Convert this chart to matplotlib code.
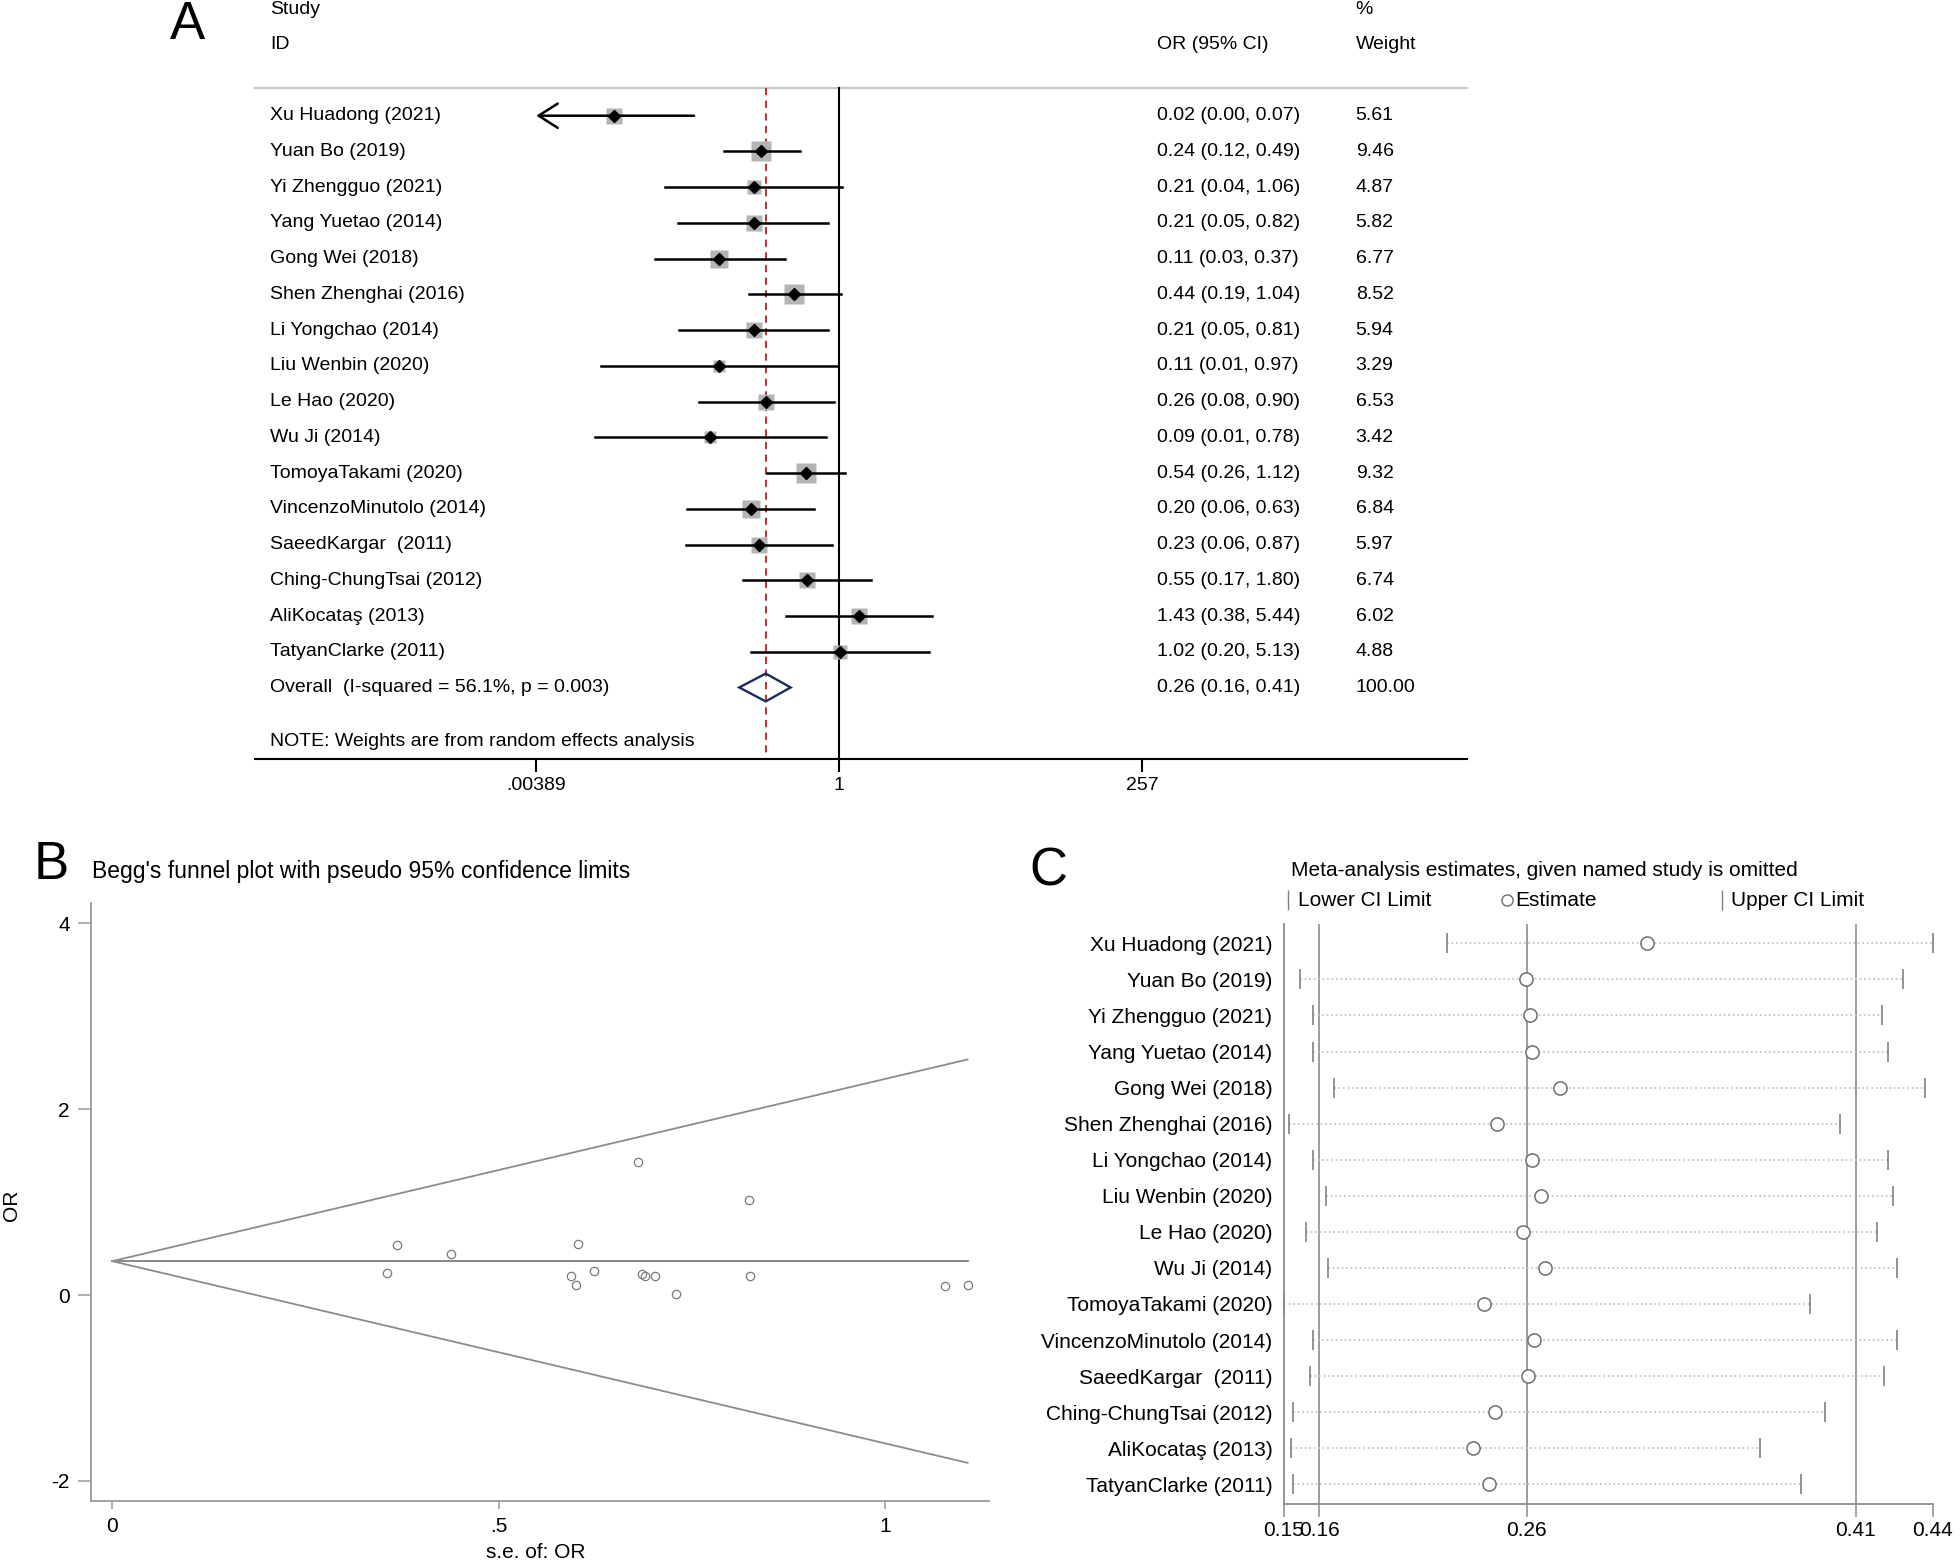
import numpy as np
import matplotlib
matplotlib.use("Agg")
import matplotlib.pyplot as plt
from matplotlib import transforms
from matplotlib.lines import Line2D
from matplotlib.patches import Polygon

# ---- data -------------------------------------------------------------
studies = ["Xu Huadong (2021)", "Yuan Bo (2019)", "Yi Zhengguo (2021)", "Yang Yuetao (2014)",
           "Gong Wei (2018)", "Shen Zhenghai (2016)", "Li Yongchao (2014)", "Liu Wenbin (2020)",
           "Le Hao (2020)", "Wu Ji (2014)", "TomoyaTakami (2020)", "VincenzoMinutolo (2014)",
           "SaeedKargar  (2011)", "Ching-ChungTsai (2012)", "AliKocataş (2013)", "TatyanClarke (2011)"]
or_est = [0.016, 0.24, 0.21, 0.21, 0.11, 0.44, 0.21, 0.11, 0.26, 0.093, 0.54, 0.20, 0.23, 0.55, 1.43, 1.02]
ci_low = [0.003, 0.12, 0.041, 0.052, 0.034, 0.19, 0.053, 0.0127, 0.077, 0.0114, 0.264, 0.061, 0.06, 0.17, 0.38, 0.20]
ci_high = [0.07, 0.49, 1.06, 0.82, 0.37, 1.04, 0.81, 0.97, 0.90, 0.78, 1.12, 0.63, 0.87, 1.80, 5.44, 5.13]
weights = [5.61, 9.46, 4.87, 5.82, 6.77, 8.52, 5.94, 3.29, 6.53, 3.42, 9.32, 6.84, 5.97, 6.74, 6.02, 4.88]
overall = [0.26, 0.16, 0.41]
i_squared = 56.1
p_het = 0.003
forest_ticks = [0.00389, 1, 257]
forest_tick_labels = [".00389", "1", "257"]

# Begg's funnel: standard error of each study
se_or = [0.729, 0.356, 0.826, 0.690, 0.600, 0.438, 0.702, 1.107,
         0.624, 1.078, 0.369, 0.594, 0.686, 0.603, 0.680, 0.824]
funnel_center = 0.365

# influence analysis (study omitted)
omit_est = [0.313, 0.257, 0.259, 0.260, 0.273, 0.244, 0.260, 0.264,
            0.256, 0.266, 0.238, 0.261, 0.258, 0.243, 0.233, 0.240]
omit_low = [0.221, 0.153, 0.159, 0.159, 0.169, 0.148, 0.159, 0.165,
            0.156, 0.166, 0.1456, 0.159, 0.158, 0.150, 0.149, 0.150]
omit_high = [0.4444, 0.431, 0.421, 0.424, 0.441, 0.402, 0.424, 0.426,
             0.419, 0.428, 0.388, 0.428, 0.422, 0.395, 0.365, 0.384]
omit_ref = [0.162, 0.2575, 0.409]  # combined lower, estimate, upper

# ---- figure -----------------------------------------------------------
W, H = 1960, 1563
plt.rcParams['font.family'] = ['Liberation Sans', 'DejaVu Sans']
fig = plt.figure(figsize=(W / 100, H / 100), dpi=100)


def box(x0, y0, x1, y1):
    return [x0 / W, 1 - y1 / H, (x1 - x0) / W, (y1 - y0) / H]


# ===== Panel A: forest plot =====
axA = fig.add_axes(box(254.5, 0, 1466.7, 759.3))
pxu = 54.6
axA.set_xlim((254.5 - 839.3) / pxu, (1466.7 - 839.3) / pxu)
ytop, ybot = 0.233, 19.01
axA.set_ylim(ybot, -2.238)
for s in ['top', 'left', 'right']:
    axA.spines[s].set_visible(False)
axA.spines['bottom'].set_linewidth(1.5)
axA.set_xticks(np.log(forest_ticks))
axA.set_xticklabels(forest_tick_labels)
axA.tick_params(axis='x', length=9.5, width=1.5, labelsize=14, pad=3)
axA.set_yticks([])
fsA = 14

blend = transforms.blended_transform_factory(axA.transAxes, axA.transData)
axA.plot([0, 1], [ytop, ytop], transform=blend, color='#c8c8c8', lw=1.6, clip_on=False)
axA.plot([0, 0], [ytop, ybot], color='black', lw=1.5, clip_on=False)
axA.plot([np.log(overall[0])] * 2, [ytop, ybot], color='#b22222', lw=1.3,
         ls=(0, (4, 3)), clip_on=False)

clip_lo = np.log(forest_ticks[0])
for i in range(len(studies)):
    r = i + 1
    x = np.log(or_est[i])
    axA.plot(x, r, marker='s', ms=14.5 * np.sqrt(weights[i] / 9.46), color='#b4b4b4',
             mec='none', zorder=2)
    lo = np.log(ci_low[i])
    hi = np.log(ci_high[i])
    if lo < clip_lo:
        axA.annotate('', xy=(clip_lo, r), xytext=(hi, r),
                     arrowprops=dict(arrowstyle='->,head_length=0.55,head_width=0.35',
                                     lw=1.8, color='black', shrinkA=0, shrinkB=0,
                                     mutation_scale=25), zorder=3)
    else:
        axA.plot([lo, hi], [r, r], color='black', lw=1.8, zorder=3)
    axA.plot(x, r, marker='D', ms=6.3, color='black', zorder=4)
    axA.text(0.0127, r, studies[i], transform=blend, va='center', fontsize=fsA)
    axA.text(0.7448, r, "%.2f (%.2f, %.2f)" % (or_est[i], ci_low[i], ci_high[i]),
             transform=blend, va='center', fontsize=fsA)
    axA.text(0.9084, r, "%.2f" % weights[i], transform=blend, va='center', fontsize=fsA)

ro = len(studies) + 1
ov = np.log(overall)
axA.add_patch(Polygon([(ov[1], ro), (ov[0], ro - 0.39), (ov[2], ro), (ov[0], ro + 0.39)],
                      closed=True, fill=False, ec='#1c2a5e', lw=1.7, zorder=4))
axA.text(0.0127, ro, "Overall  (I-squared = %.1f%%, p = %.3f)" % (i_squared, p_het),
         transform=blend, va='center', fontsize=fsA)
axA.text(0.7448, ro, "%.2f (%.2f, %.2f)" % tuple(overall), transform=blend, va='center', fontsize=fsA)
axA.text(0.9084, ro, "%.2f" % sum(weights), transform=blend, va='center', fontsize=fsA)
axA.text(0.0127, 18.52, "NOTE: Weights are from random effects analysis", transform=blend,
         va='center', fontsize=fsA)
axA.text(0.0127, -1.986, "Study", transform=blend, va='center', fontsize=fsA)
axA.text(0.0127, -1.0, "ID", transform=blend, va='center', fontsize=fsA)
axA.text(0.7448, -1.0, "OR (95% CI)", transform=blend, va='center', fontsize=fsA)
axA.text(0.9084, -1.986, "%", transform=blend, va='center', fontsize=fsA)
axA.text(0.9084, -1.0, "Weight", transform=blend, va='center', fontsize=fsA)

# ===== Panel B: Begg's funnel plot =====
axB = fig.add_axes(box(91.2, 903, 988.5, 1500.7))
axB.set_xlim(-0.0272, 1.134)
axB.set_ylim(-2.212, 4.218)
for s in ['top', 'right']:
    axB.spines[s].set_visible(False)
for s in ['left', 'bottom']:
    axB.spines[s].set_color('#9a9a9a')
    axB.spines[s].set_linewidth(1.3)
se_max = max(se_or)
axB.plot([0, se_max], [funnel_center, funnel_center], color='#7f7f7f', lw=1.3)
axB.plot([0, se_max], [funnel_center, funnel_center + 1.96 * se_max], color='#8c8c8c', lw=1.3)
axB.plot([0, se_max], [funnel_center, funnel_center - 1.96 * se_max], color='#8c8c8c', lw=1.3)
axB.plot(se_or, or_est, linestyle='none', marker='o', ms=6, mfc='none', mec='#7a7a7a', mew=0.9)
axB.set_yticks([-2, 0, 2, 4])
axB.set_yticklabels(["-2", "0", "2", "4"])
axB.set_xticks([0, 0.5, 1])
axB.set_xticklabels(["0", ".5", "1"])
axB.tick_params(axis='y', length=9.5, width=1.1, color='#9a9a9a', labelsize=15, pad=6)
axB.tick_params(axis='x', length=6, width=1.1, color='#9a9a9a', labelsize=15, pad=6)
fig.text(536 / W, 1 - 1553 / H, "s.e. of: OR", ha='center', va='center', fontsize=15)
fig.text(12 / W, 1 - 1205 / H, "OR", ha='center', va='center', rotation=90, fontsize=15)
fig.text(91.5 / W, 1 - 871.7 / H, "Begg's funnel plot with pseudo 95% confidence limits",
         ha='left', va='center', fontsize=16.5)

# ===== Panel C: influence analysis =====
axC = fig.add_axes(box(1283.5, 924.3, 1932.6, 1504))
axC.set_xlim(0.1456, 0.4444)
axC.set_ylim(16.546, 0.473)
for s in ['top', 'right']:
    axC.spines[s].set_visible(False)
for s in ['left', 'bottom']:
    axC.spines[s].set_color('#8c8c8c')
    axC.spines[s].set_linewidth(1.3)
for v in omit_ref:
    axC.axvline(v, color='#8c8c8c', lw=1.2)
rows = np.arange(1, len(studies) + 1)
for i in range(len(studies)):
    axC.plot([omit_low[i], omit_high[i]], [rows[i]] * 2, color='#c4c4c4', lw=1.3,
             ls=(0, (1, 1.5)))
axC.plot(omit_low, rows, linestyle='none', marker='|', ms=15, mew=1.2, color='#808080', clip_on=False)
axC.plot(omit_high, rows, linestyle='none', marker='|', ms=15, mew=1.2, color='#808080', clip_on=False)
axC.plot(omit_est, rows, linestyle='none', marker='o', ms=9.5, mfc='white', mec='#6e6e6e', mew=1.1)
axC.set_yticks(rows)
axC.set_yticklabels(studies)
axC.tick_params(axis='y', length=0, labelsize=15, pad=8)
c_ticks = [min(omit_low), omit_ref[0], omit_ref[1], omit_ref[2], max(omit_high)]
axC.set_xticks(c_ticks)
axC.set_xticklabels(["%.2f" % v for v in c_ticks])
axC.tick_params(axis='x', length=9, width=1.1, color='#8c8c8c', labelsize=15, pad=3)

fig.text(1291 / W, 1 - 870 / H, "Meta-analysis estimates, given named study is omitted",
         ha='left', va='center', fontsize=15)
ly = 1 - 900 / H
fig.add_artist(Line2D([1288 / W], [ly], marker='|', ms=14, mew=1.0, color='#808080',
                      transform=fig.transFigure))
fig.text(1298 / W, ly, "Lower CI Limit", ha='left', va='center', fontsize=15)
fig.add_artist(Line2D([1507 / W], [ly], marker='o', ms=8, mfc='white', mec='#6e6e6e', mew=1.0,
                      transform=fig.transFigure))
fig.text(1515 / W, ly, "Estimate", ha='left', va='center', fontsize=15)
fig.add_artist(Line2D([1722 / W], [ly], marker='|', ms=14, mew=1.0, color='#808080',
                      transform=fig.transFigure))
fig.text(1731 / W, ly, "Upper CI Limit", ha='left', va='center', fontsize=15)

# panel letters
fig.text(187 / W, 1 - 25 / H, "A", ha='center', va='center', fontsize=38)
fig.text(51 / W, 1 - 865 / H, "B", ha='center', va='center', fontsize=38)
fig.text(1048 / W, 1 - 871 / H, "C", ha='center', va='center', fontsize=38)

fig.savefig("out.png", dpi=100, facecolor='white')
